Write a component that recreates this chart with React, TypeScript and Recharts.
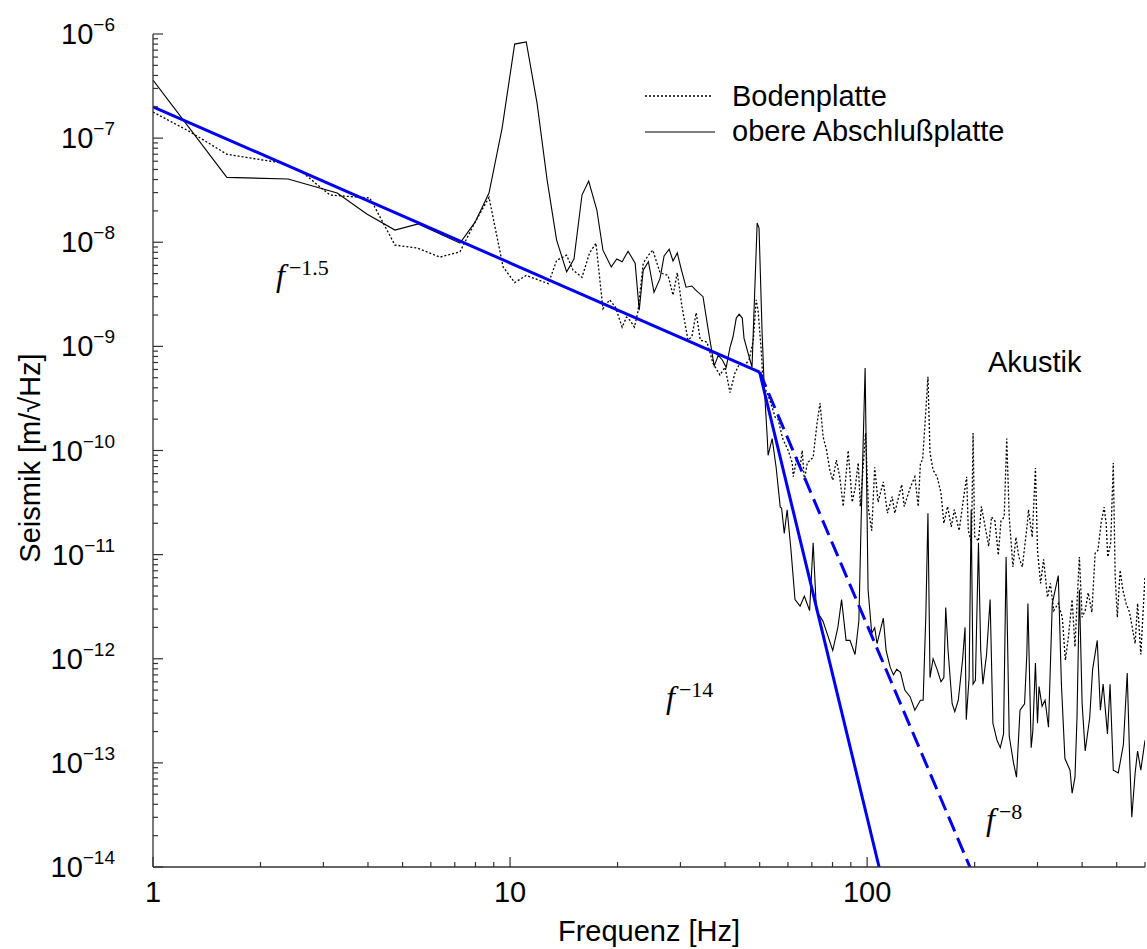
import { LineChart, Line, XAxis, YAxis } from 'recharts';

// Bodenplatte (dotted)
const bodenFreq = [1, 1.27, 1.61, 2.27, 2.58, 3.13, 4.05, 4.76, 5.49, 6.37, 7.24, 7.98, 8.73, 9.56, 10.3, 11.1, 12.8, 13.5, 14.4, 15.0, 15.9, 16.7, 17.4, 18.2, 19.0, 19.7, 20.6, 21.2, 21.7, 22.3, 22.8, 23.6, 24.4, 25.1, 26.3, 27.7, 28.6, 29.4, 30.3, 31.5, 32.3, 33.2, 34.1, 35.6, 37.0, 38.7, 40.0, 41.3, 42.6, 44.0, 45.4, 46.7, 48.0, 48.9, 49.5, 50.5, 51.2, 52.5, 54.2, 55.2, 56.3, 58.0, 60.1, 61.7, 62.1, 63.6, 64.9, 65.8, 66.7, 68.0, 70.6, 72.4, 73.8, 75.3, 77.0, 78.6, 80.1, 82.0, 83.8, 85.7, 88.5, 90.8, 92.5, 94.4, 95.7, 99.0, 100.9, 103, 105, 107.3, 111, 114, 117.5, 119.5, 121.5, 125, 127, 132, 136, 139, 141, 143, 146, 148, 150, 153, 157, 161, 164, 168, 172, 175.5, 181, 186, 190, 192, 196, 198, 200, 205, 209, 214, 219, 223, 228, 233, 237, 242, 246, 250, 256, 261, 266, 272, 281, 283, 290, 296, 300, 306, 312, 320, 326, 333, 343, 352, 359, 366, 375, 382, 387, 393, 400, 408, 416, 426, 435, 443, 452, 461, 467, 472, 481, 489, 495, 502, 511, 520, 531, 543, 563, 572, 584, 600];
const bodenVals = [1.78e-7, 1.15e-7, 7.0e-8, 5.8e-8, 4.9e-8, 2.84e-8, 2.66e-8, 9.4e-9, 8.8e-9, 7.2e-9, 8.1e-9, 1.56e-8, 2.7e-8, 5.8e-9, 4.1e-9, 4.8e-9, 4.0e-9, 6.7e-9, 7.5e-9, 5.4e-9, 4.6e-9, 7.9e-9, 9.8e-9, 2.3e-9, 2.8e-9, 2.4e-9, 1.53e-9, 1.91e-9, 1.77e-9, 1.53e-9, 2.14e-9, 6.3e-9, 7.5e-9, 8.4e-9, 5.1e-9, 4.8e-9, 3.1e-9, 5.1e-9, 2.4e-9, 1.15e-9, 1.24e-9, 2.1e-9, 1.15e-9, 1.1e-9, 6.9e-10, 5.3e-10, 6.3e-10, 3.6e-10, 5.5e-10, 6.9e-10, 6.6e-10, 7.4e-10, 1.15e-9, 2.8e-9, 2.2e-9, 9.2e-10, 4.1e-10, 3.6e-10, 2.6e-10, 2.1e-10, 2.0e-10, 1.3e-10, 1.0e-10, 7.6e-11, 5.6e-11, 8.6e-11, 6.9e-11, 1.0e-10, 5.2e-11, 7.6e-11, 8.6e-11, 1.83e-10, 2.85e-10, 1.35e-10, 1.0e-10, 6.5e-11, 5.2e-11, 8.1e-11, 5.6e-11, 2.9e-11, 1.0e-10, 3.2e-11, 4.3e-11, 7.6e-11, 2.9e-11, 1.47e-10, 2.7e-11, 1.7e-11, 6.9e-11, 3.2e-11, 5.0e-11, 2.5e-11, 3.6e-11, 2.5e-11, 3.2e-11, 4.7e-11, 2.9e-11, 4.4e-11, 5.6e-11, 2.9e-11, 7.6e-11, 8.1e-11, 2.4e-10, 5.1e-10, 9.5e-11, 6.5e-11, 5.6e-11, 3.9e-11, 2.0e-11, 2.9e-11, 1.85e-11, 2.7e-11, 1.7e-11, 3.4e-11, 5.6e-11, 1.7e-11, 1.3e-11, 1.47e-10, 1.5e-11, 1.35e-11, 2.9e-11, 1.85e-11, 1.2e-11, 2.3e-11, 2.1e-11, 9.9e-12, 2.1e-11, 2.3e-11, 1.3e-10, 2.3e-11, 7.6e-12, 1.47e-11, 9.5e-12, 7.6e-12, 2.0e-11, 2.7e-11, 1.47e-11, 6.8e-11, 1.1e-11, 5.3e-12, 9.0e-12, 3.9e-12, 5.3e-12, 2.9e-12, 3.4e-12, 2.5e-12, 9.7e-13, 1.6e-12, 3.7e-12, 1.3e-12, 3.4e-12, 9.5e-12, 2.5e-12, 2.9e-12, 4.3e-12, 2.8e-12, 1.03e-11, 1.1e-11, 2.0e-11, 2.86e-11, 2.0e-11, 9.5e-12, 1.3e-11, 7.6e-11, 6.2e-12, 2.5e-12, 7.1e-12, 4.6e-12, 3.4e-12, 2.8e-12, 1.4e-12, 3.4e-12, 1.1e-12, 6.2e-12];

// obere Abschlußplatte (solid)
const obereFreq = [1, 1.61, 2.39, 3.28, 3.97, 4.76, 5.53, 7.24, 7.98, 8.73, 9.5, 10.3, 11.1, 11.9, 12.7, 13.5, 14.4, 15.1, 15.9, 16.6, 17.5, 18.2, 19.2, 19.9, 20.6, 21.4, 22.4, 23.0, 23.6, 24.4, 25.3, 26.3, 27.0, 27.9, 28.6, 29.4, 30.1, 31.1, 32.3, 33.0, 34.7, 35.9, 37.3, 38.3, 39.3, 40.3, 41.3, 42.1, 43.0, 43.8, 44.7, 45.2, 46.4, 47.6, 49.2, 49.8, 50.8, 51.5, 52.5, 52.8, 54.2, 55.6, 57.1, 57.6, 58.6, 59.7, 61.2, 62.8, 64.9, 66.7, 69.0, 70.6, 72.1, 75.2, 78.4, 80.1, 82.8, 84.8, 87.3, 89.5, 92.5, 94.8, 96.2, 98.7, 100.6, 103, 105, 106.6, 111, 113, 116, 118.5, 121, 124, 127.5, 132, 136, 141, 143.5, 146, 148, 150, 153, 157, 161, 164, 166, 168.5, 173, 176, 180, 185, 188, 189.5, 193, 195.6, 198, 201, 205, 208, 211, 216, 221, 225, 231, 236, 241, 245, 250, 257, 262, 268, 276, 280, 282, 288, 291, 296, 300, 303, 309, 315, 322, 330, 343, 350, 358, 370, 375, 382, 387, 393, 400, 408, 420, 428, 441, 450, 458, 471, 479, 489, 505, 522, 535, 544, 551, 563, 572, 584, 600];
const obereVals = [3.6e-7, 4.2e-8, 4.05e-8, 2.97e-8, 1.87e-8, 1.31e-8, 1.5e-8, 9.8e-9, 1.56e-8, 2.97e-8, 1.25e-7, 8.0e-7, 8.4e-7, 2.17e-7, 3.95e-8, 1.05e-8, 5.2e-9, 6.9e-9, 2.84e-8, 3.87e-8, 2.04e-8, 8.4e-9, 5.8e-9, 6.9e-9, 6.5e-9, 8.2e-9, 6.3e-9, 2.23e-9, 5.4e-9, 6.5e-9, 3.3e-9, 4.5e-9, 7.4e-9, 8.6e-9, 6.6e-9, 7.9e-9, 5.65e-9, 3.7e-9, 3.8e-9, 3.5e-9, 3.0e-9, 1.43e-9, 6.5e-10, 8.2e-10, 7.4e-10, 6.3e-10, 9.8e-10, 1.23e-9, 1.87e-9, 2.04e-9, 1.87e-9, 1.2e-9, 8.6e-10, 6.3e-10, 1.53e-8, 1.37e-8, 1.34e-9, 4.1e-10, 1.35e-10, 9.0e-11, 1.3e-10, 6.9e-11, 2.86e-11, 2.8e-11, 1.6e-11, 2.7e-11, 1.1e-11, 3.7e-12, 3.2e-12, 4.0e-12, 2.9e-12, 1.3e-11, 2.9e-12, 2.3e-12, 1.5e-12, 1.2e-12, 2.0e-12, 3.7e-12, 1.5e-12, 1.5e-12, 1.1e-12, 2.3e-12, 2.1e-11, 6.2e-10, 4.6e-12, 1.76e-12, 1.99e-12, 1.4e-12, 2.45e-12, 1.2e-12, 8.3e-13, 7.0e-13, 7.9e-13, 7.4e-13, 5.0e-13, 4.3e-13, 3.2e-13, 4.0e-13, 4.0e-13, 2.6e-12, 2.5e-11, 6.6e-13, 1.0e-12, 7.9e-13, 6.0e-13, 6.6e-13, 3.1e-12, 1.2e-12, 3.7e-13, 3.1e-13, 4.0e-13, 9.7e-13, 2.0e-12, 2.6e-13, 6.6e-13, 2.7e-11, 5.7e-13, 6.2e-13, 1.3e-11, 1.2e-12, 5.7e-13, 1.1e-12, 3.7e-12, 2.4e-13, 1.65e-13, 1.4e-13, 1.9e-13, 9.5e-12, 1.8e-13, 1.0e-13, 7.3e-14, 3.2e-13, 3.7e-13, 1.1e-12, 3.4e-12, 1.4e-13, 2.0e-13, 9.1e-13, 2.4e-13, 5.4e-13, 3.5e-13, 4.0e-13, 2.2e-13, 3.4e-12, 6.3e-12, 5.7e-13, 1.1e-13, 8.5e-14, 5.1e-14, 7.3e-14, 2.7e-13, 4.6e-12, 3.7e-13, 1.3e-13, 2.7e-13, 7.9e-13, 1.5e-12, 3.2e-13, 5.7e-13, 1.9e-13, 5.7e-13, 8.5e-14, 8.0e-14, 1.5e-13, 7.3e-13, 1.0e-13, 3.0e-14, 8.0e-14, 1.3e-13, 8.5e-14, 1.65e-13];

// power-law fits (blue)
const fitLowFreq = [1, 50];
const fitLowVals = [2e-7, 5.66e-10];
const fitSteepFreq = [50, 108];
const fitSteepVals = [5.66e-10, 1e-14];
const fitDashFreq = [50, 194];
const fitDashVals = [5.66e-10, 1e-14];

const xMajor = [1, 10, 100];
const yExponents = [-14, -13, -12, -11, -10, -9, -8, -7, -6];

const SANS = '"Liberation Sans", Arial, Helvetica, sans-serif';
const SERIF = '"Liberation Serif", "Times New Roman", serif';
const AXIS = '#333';
const BLUE = '#0000f0';

const toPoints = (fs: number[], vs: number[]) => fs.map((f, i) => ({ f, v: vs[i] }));

const xTicks: number[] = [];
xMajor.forEach((d) => {
  for (let m = 1; m <= 9; m++) if (d * m <= 600) xTicks.push(d * m);
});
const yTicks: number[] = [];
yExponents.forEach((e) => {
  for (let m = 1; m <= 9; m++) {
    const v = Number((m * Math.pow(10, e)).toPrecision(6));
    if (e < -6 || m === 1) yTicks.push(v);
  }
});

const isMajor = (v: number) => {
  const l = Math.log10(v);
  return Math.abs(l - Math.round(l)) < 1e-6;
};

function BottomTick({ x, y, payload }: any) {
  const major = isMajor(payload.value);
  return (
    <g>
      <line x1={x} x2={x} y1={y} y2={y - (major ? 10 : 5)} stroke={AXIS} strokeWidth={1.2} />
      {major && (
        <text x={x} y={y + 35} textAnchor="middle" fontSize={29} fontFamily={SANS} fill="#000">
          {payload.value}
        </text>
      )}
    </g>
  );
}

function TopTick({ x, y, payload }: any) {
  const major = isMajor(payload.value);
  return <line x1={x} x2={x} y1={y} y2={y + (major ? 10 : 5)} stroke={AXIS} strokeWidth={1.2} />;
}

function LeftTick({ x, y, payload }: any) {
  const major = isMajor(payload.value);
  const exp = Math.round(Math.log10(payload.value));
  return (
    <g>
      <line x1={x} x2={x + (major ? 10 : 5)} y1={y} y2={y} stroke={AXIS} strokeWidth={1.2} />
      {major && (
        <text x={x - 38} y={y + 10} textAnchor="end" fontSize={29} fontFamily={SANS} fill="#000">
          10
          <tspan fontSize={19} dy={-13}>{'\u2212' + Math.abs(exp)}</tspan>
        </text>
      )}
    </g>
  );
}

function RightTick({ x, y, payload }: any) {
  const major = isMajor(payload.value);
  return <line x1={x} x2={x - (major ? 10 : 5)} y1={y} y2={y} stroke={AXIS} strokeWidth={1.2} />;
}

function PowerLabel({ x, y, exp }: { x: number; y: number; exp: string }) {
  return (
    <text x={x} y={y} fontFamily={SERIF} fontSize={32} fill="#000">
      <tspan fontStyle="italic">f</tspan>
      <tspan fontSize={22} dx={4} dy={-11}>{exp}</tspan>
    </text>
  );
}

export default function App() {
  const boden = toPoints(bodenFreq, bodenVals);
  const obere = toPoints(obereFreq, obereVals);
  const fitLow = toPoints(fitLowFreq, fitLowVals);
  const fitSteep = toPoints(fitSteepFreq, fitSteepVals);
  const fitDash = toPoints(fitDashFreq, fitDashVals);

  return (
    <div style={{ position: 'relative', width: 1147, height: 949, background: '#fff' }}>
      <style>{'body{margin:0}'}</style>
      <LineChart width={1147} height={949} margin={{ top: 34, right: 2, bottom: 0, left: 0 }}>
        <XAxis dataKey="f" type="number" scale="log" domain={[1, 600]} allowDataOverflow ticks={xTicks} interval={0}
          height={82} tickSize={0} tickMargin={0} tickLine={false} axisLine={{ stroke: AXIS, strokeWidth: 1.3 }} tick={<BottomTick />} />
        <XAxis xAxisId="top" orientation="top" dataKey="f" type="number" scale="log" domain={[1, 600]} allowDataOverflow ticks={xTicks} interval={0}
          height={0} tickSize={0} tickMargin={0} tickLine={false} axisLine={{ stroke: AXIS, strokeWidth: 1.3 }} tick={<TopTick />} />
        <YAxis type="number" scale="log" domain={[1e-14, 1e-6]} allowDataOverflow ticks={yTicks} interval={0}
          width={153} tickSize={0} tickMargin={0} tickLine={false} axisLine={{ stroke: AXIS, strokeWidth: 1.3 }} tick={<LeftTick />} />
        <YAxis yAxisId="right" orientation="right" type="number" scale="log" domain={[1e-14, 1e-6]} allowDataOverflow ticks={yTicks} interval={0}
          width={0} tickSize={0} tickMargin={0} tickLine={false} axisLine={{ stroke: AXIS, strokeWidth: 1.3 }} tick={<RightTick />} />
        <Line data={boden} dataKey="v" type="linear" stroke="#000" strokeWidth={1.3} strokeDasharray="2 2" dot={false} isAnimationActive={false} />
        <Line data={obere} dataKey="v" type="linear" stroke="#000" strokeWidth={1.1} dot={false} isAnimationActive={false} />
        <Line data={fitLow} dataKey="v" type="linear" stroke={BLUE} strokeWidth={3} dot={false} isAnimationActive={false} />
        <Line data={fitSteep} dataKey="v" type="linear" stroke={BLUE} strokeWidth={3} dot={false} isAnimationActive={false} />
        <Line data={fitDash} dataKey="v" type="linear" stroke={BLUE} strokeWidth={3} strokeDasharray="16 7" dot={false} isAnimationActive={false} />
      </LineChart>
      <svg width={1147} height={949} style={{ position: 'absolute', left: 0, top: 0, pointerEvents: 'none' }}>
        <line x1={645} x2={713} y1={96} y2={96} stroke="#000" strokeWidth={1.3} strokeDasharray="2 2" />
        <text x={732} y={106} fontFamily={SANS} fontSize={29} fill="#000">Bodenplatte</text>
        <line x1={645} x2={715} y1={132} y2={132} stroke="#000" strokeWidth={1.1} />
        <text x={732} y={141} fontFamily={SANS} fontSize={29} fill="#000">obere Abschlußplatte</text>
        <text x={988} y={372} fontFamily={SANS} fontSize={29} fill="#000">Akustik</text>
        <PowerLabel x={276} y={286} exp={'\u22121.5'} />
        <PowerLabel x={666} y={708} exp={'\u221214'} />
        <PowerLabel x={986} y={830} exp={'\u22128'} />
        <text x={649} y={941} textAnchor="middle" fontFamily={SANS} fontSize={29} fill="#000">Frequenz [Hz]</text>
        <text transform="translate(40,458) rotate(-90)" textAnchor="middle" fontFamily={SANS} fontSize={29} fill="#000">Seismik [m/√Hz]</text>
      </svg>
    </div>
  );
}
